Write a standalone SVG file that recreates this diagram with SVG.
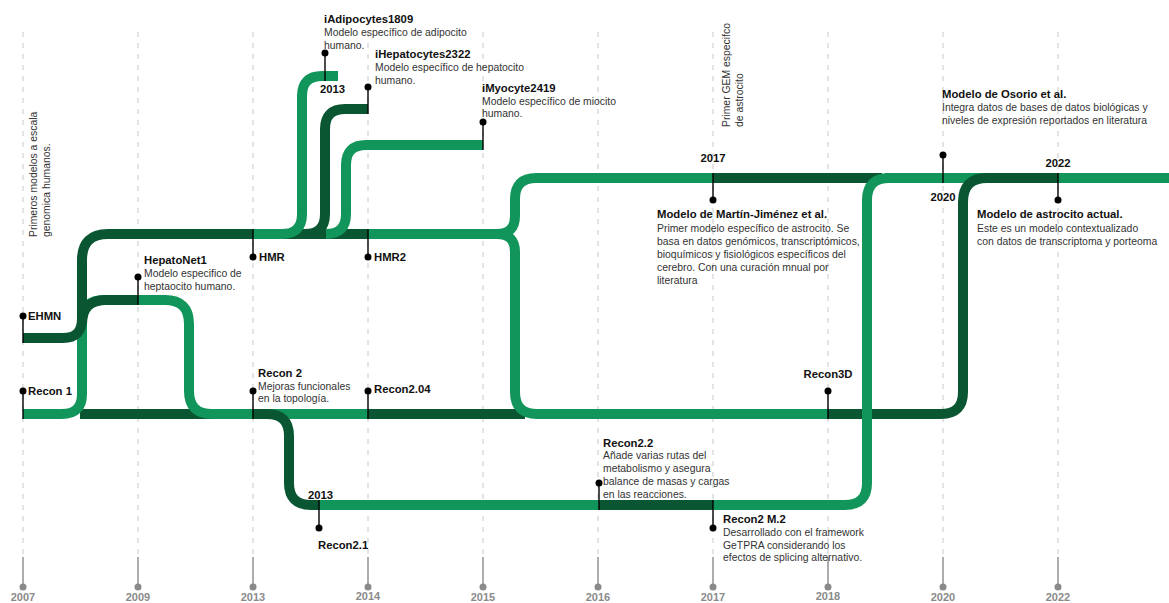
<svg xmlns="http://www.w3.org/2000/svg" width="1169" height="603" viewBox="0 0 1169 603">
<style>
.grid{stroke:#c8c8c8;stroke-width:1;stroke-dasharray:5 6;fill:none}
.gs{stroke:#8a8a8a;stroke-width:1.4}
.gd{fill:#8a8a8a}
.yr{font-family:"Liberation Sans",Arial,sans-serif;font-weight:bold;font-size:11px;fill:#8a8a8a;text-anchor:middle}
.L{stroke:#11955a;stroke-width:10;fill:none}
.D{stroke:#0a5532;stroke-width:10;fill:none}
.m{stroke:#000;stroke-width:1.4}
.t{font-family:"Liberation Sans",Arial,sans-serif;font-weight:bold;font-size:11.3px;fill:#111}
.d{font-family:"Liberation Sans",Arial,sans-serif;font-size:10.4px;fill:#333}
.c{text-anchor:middle}
</style>
<rect width="1169" height="603" fill="#fff"/>
<g id="grid">
<line class="grid" x1="23" y1="32" x2="23" y2="557"/><line class="gs" x1="23" y1="557" x2="23" y2="587"/><circle class="gd" cx="23" cy="587" r="3.5"/><text class="yr" x="23" y="601">2007</text>
<line class="grid" x1="138" y1="32" x2="138" y2="557"/><line class="gs" x1="138" y1="557" x2="138" y2="587"/><circle class="gd" cx="138" cy="587" r="3.5"/><text class="yr" x="138" y="601">2009</text>
<line class="grid" x1="253" y1="32" x2="253" y2="557"/><line class="gs" x1="253" y1="557" x2="253" y2="587"/><circle class="gd" cx="253" cy="587" r="3.5"/><text class="yr" x="253" y="601">2013</text>
<line class="grid" x1="368" y1="32" x2="368" y2="557"/><line class="gs" x1="368" y1="557" x2="368" y2="587"/><circle class="gd" cx="368" cy="587" r="3.5"/><text class="yr" x="368" y="600">2014</text>
<line class="grid" x1="483" y1="32" x2="483" y2="557"/><line class="gs" x1="483" y1="557" x2="483" y2="587"/><circle class="gd" cx="483" cy="587" r="3.5"/><text class="yr" x="483" y="601">2015</text>
<line class="grid" x1="598" y1="32" x2="598" y2="557"/><line class="gs" x1="598" y1="557" x2="598" y2="587"/><circle class="gd" cx="598" cy="587" r="3.5"/><text class="yr" x="598" y="601">2016</text>
<line class="grid" x1="713" y1="32" x2="713" y2="557"/><line class="gs" x1="713" y1="557" x2="713" y2="587"/><circle class="gd" cx="713" cy="587" r="3.5"/><text class="yr" x="713" y="601">2017</text>
<line class="grid" x1="828" y1="32" x2="828" y2="557"/><line class="gs" x1="828" y1="557" x2="828" y2="587"/><circle class="gd" cx="828" cy="587" r="3.5"/><text class="yr" x="828" y="600">2018</text>
<line class="grid" x1="943" y1="32" x2="943" y2="557"/><line class="gs" x1="943" y1="557" x2="943" y2="587"/><circle class="gd" cx="943" cy="587" r="3.5"/><text class="yr" x="943" y="601">2020</text>
<line class="grid" x1="1058" y1="32" x2="1058" y2="557"/><line class="gs" x1="1058" y1="557" x2="1058" y2="587"/><circle class="gd" cx="1058" cy="587" r="3.5"/><text class="yr" x="1058" y="601">2022</text>
</g>
<g id="connectors">
<path class="D" d="M80,414 H212"/>
<path class="L" d="M23,414 H62 Q82,414 82,394 V322 Q82,300 104,300 H138"/>
<path class="D" d="M23,338 H63 Q82,338 82,319 V260 Q82,234 108,234 H253"/>
<path class="D" d="M82,324 Q82,300 106,300 H138"/>
<path class="L" d="M138,300 H165 Q189,300 189,324 V391 Q189,414 212,414 H368"/>
<path class="D" d="M368,414 H525"/>
<path class="D" d="M253,414 H267 Q289,414 289,436 V483 Q289,505 311,505 H319"/>
<path class="L" d="M319,505 H599"/>
<path class="D" d="M599,505 H713"/>
<path class="D" d="M713,178 H882"/>
<path class="D" d="M253,234 H368"/>
<path class="L" d="M326,234 Q346,234 346,214 V165 Q346,145 366,145 H483"/>
<path class="D" d="M293,234 H305 Q325,234 325,214 V129 Q325,109 345,109 H368"/>
<path class="L" d="M253,234 H282 Q302,234 302,214 V96 Q302,76 322,76 H338"/>
<path class="L" d="M368,234 H497 Q515,234 515,216 V199 Q515,178 536,178 H713"/>
<path class="L" d="M497,234 Q515,234 515,252 V392 Q515,414 537,414 H828"/>
<path class="L" d="M885,178 H1169"/>
<path class="D" d="M828,414 H941 Q963,414 963,392 V202 Q963,178 987,178 H1058"/>
<path class="L" d="M713,505 H845 Q867,505 867,483 V200 Q867,178 889,178"/>
</g>
<g id="intro">
<text class="d" transform="translate(37,237) rotate(-90)">Primeros modelos a escala</text>
<text class="d" transform="translate(50,237) rotate(-90)">genomica humanos.</text>
</g>
<g id="recon1">
<line class="m" x1="23" y1="391" x2="23" y2="419"/><circle cx="23" cy="391" r="3.5"/>
<text class="t" x="28" y="395">Recon 1</text>
</g>
<g id="ehmn">
<line class="m" x1="23" y1="316" x2="23" y2="343"/><circle cx="23" cy="316" r="3.5"/>
<text class="t" x="28" y="320">EHMN</text>
</g>
<g id="hepatonet1">
<line class="m" x1="138" y1="277" x2="138" y2="305"/><circle cx="138" cy="277" r="3.5"/>
<text class="t" x="144" y="264">HepatoNet1</text>
<text class="d" x="144" y="277">Modelo especifico de</text>
<text class="d" x="144" y="290">heptaocito humano.</text>
</g>
<g id="hmr">
<line class="m" x1="253" y1="229" x2="253" y2="257"/><circle cx="253" cy="257" r="3.5"/>
<text class="t" x="259" y="261">HMR</text>
</g>
<g id="hmr2">
<line class="m" x1="368" y1="229" x2="368" y2="257"/><circle cx="368" cy="257" r="3.5"/>
<text class="t" x="374" y="261">HMR2</text>
</g>
<g id="iadipocytes1809">
<line class="m" x1="325" y1="53" x2="325" y2="81"/><circle cx="325" cy="53" r="3.5"/>
<text class="t" x="324" y="23">iAdipocytes1809</text>
<text class="d" x="324" y="36">Modelo específico de adipocito</text>
<text class="d" x="324" y="49">humano.</text>
<text class="t" x="320" y="93">2013</text>
</g>
<g id="ihepatocytes2322">
<line class="m" x1="368" y1="87" x2="368" y2="114"/><circle cx="368" cy="87" r="3.5"/>
<text class="t" x="375" y="58">iHepatocytes2322</text>
<text class="d" x="375" y="71">Modelo específico de hepatocito</text>
<text class="d" x="375" y="83.5">humano.</text>
</g>
<g id="imyocyte2419">
<line class="m" x1="483" y1="122" x2="483" y2="150"/><circle cx="483" cy="122" r="3.5"/>
<text class="t" x="482" y="92">iMyocyte2419</text>
<text class="d" x="482" y="104.5">Modelo específico de miocito</text>
<text class="d" x="482" y="117">humano.</text>
</g>
<g id="recon2">
<line class="m" x1="253" y1="391" x2="253" y2="419"/><circle cx="253" cy="391" r="3.5"/>
<text class="t" x="258" y="377">Recon 2</text>
<text class="d" x="258" y="389.5">Mejoras funcionales</text>
<text class="d" x="258" y="402">en la topología.</text>
</g>
<g id="recon204">
<line class="m" x1="368" y1="391" x2="368" y2="419"/><circle cx="368" cy="391" r="3.5"/>
<text class="t" x="374" y="393">Recon2.04</text>
</g>
<g id="recon21">
<line class="m" x1="319" y1="500" x2="319" y2="528"/><circle cx="319" cy="528" r="3.5"/>
<text class="t" x="308" y="499">2013</text>
<text class="t" x="318" y="549">Recon2.1</text>
</g>
<g id="recon22">
<line class="m" x1="599" y1="483" x2="599" y2="510"/><circle cx="599" cy="483" r="3.5"/>
<text class="t" x="603" y="447">Recon2.2</text>
<text class="d" x="603" y="459">Añade varias rutas del</text>
<text class="d" x="603" y="472">metabolismo y asegura</text>
<text class="d" x="603" y="485">balance de masas y cargas</text>
<text class="d" x="603" y="497.5">en las reacciones.</text>
</g>
<g id="recon2m2">
<line class="m" x1="713" y1="500" x2="713" y2="528"/><circle cx="713" cy="528" r="3.5"/>
<text class="t" x="723" y="523">Recon2 M.2</text>
<text class="d" x="723" y="535.5">Desarrollado con el framework</text>
<text class="d" x="723" y="549">GeTPRA considerando los</text>
<text class="d" x="723" y="561">efectos de splicing alternativo.</text>
</g>
<g id="recon3d">
<line class="m" x1="828" y1="391" x2="828" y2="419"/><circle cx="828" cy="391" r="3.5"/>
<text class="t c" x="828" y="378">Recon3D</text>
</g>
<g id="martin-jimenez">
<text class="d" transform="translate(730,127) rotate(-90)">Primer GEM especifco</text>
<text class="d" transform="translate(743,127) rotate(-90)">de astrocito</text>
<text class="t c" x="713" y="162">2017</text>
<line class="m" x1="713" y1="173" x2="713" y2="200"/><circle cx="713" cy="200" r="3.5"/>
<text class="t" x="657" y="218">Modelo de Martín-Jiménez et al.</text>
<text class="d" x="657" y="232">Primer modelo específico de astrocito. Se</text>
<text class="d" x="657" y="245">basa en datos genómicos, transcriptómicos,</text>
<text class="d" x="657" y="257.5">bioquímicos y fisiológicos específicos del</text>
<text class="d" x="657" y="271">cerebro. Con una curación mnual por</text>
<text class="d" x="657" y="283.5">literatura</text>
</g>
<g id="osorio">
<line class="m" x1="943" y1="155" x2="943" y2="183"/><circle cx="943" cy="155" r="3.5"/>
<text class="t" x="942" y="98">Modelo de Osorio et al.</text>
<text class="d" x="942" y="111">Integra datos de bases de datos biológicas y</text>
<text class="d" x="942" y="124">niveles de expresión reportados en literatura</text>
<text class="t c" x="943" y="201">2020</text>
</g>
<g id="astrocito-actual">
<text class="t c" x="1058" y="167">2022</text>
<line class="m" x1="1058" y1="173" x2="1058" y2="200"/><circle cx="1058" cy="200" r="3.5"/>
<text class="t" x="977" y="218">Modelo de astrocito actual.</text>
<text class="d" x="977" y="232">Este es un modelo contextualizado</text>
<text class="d" x="977" y="245">con datos de transcriptoma y porteoma</text>
</g>
</svg>
